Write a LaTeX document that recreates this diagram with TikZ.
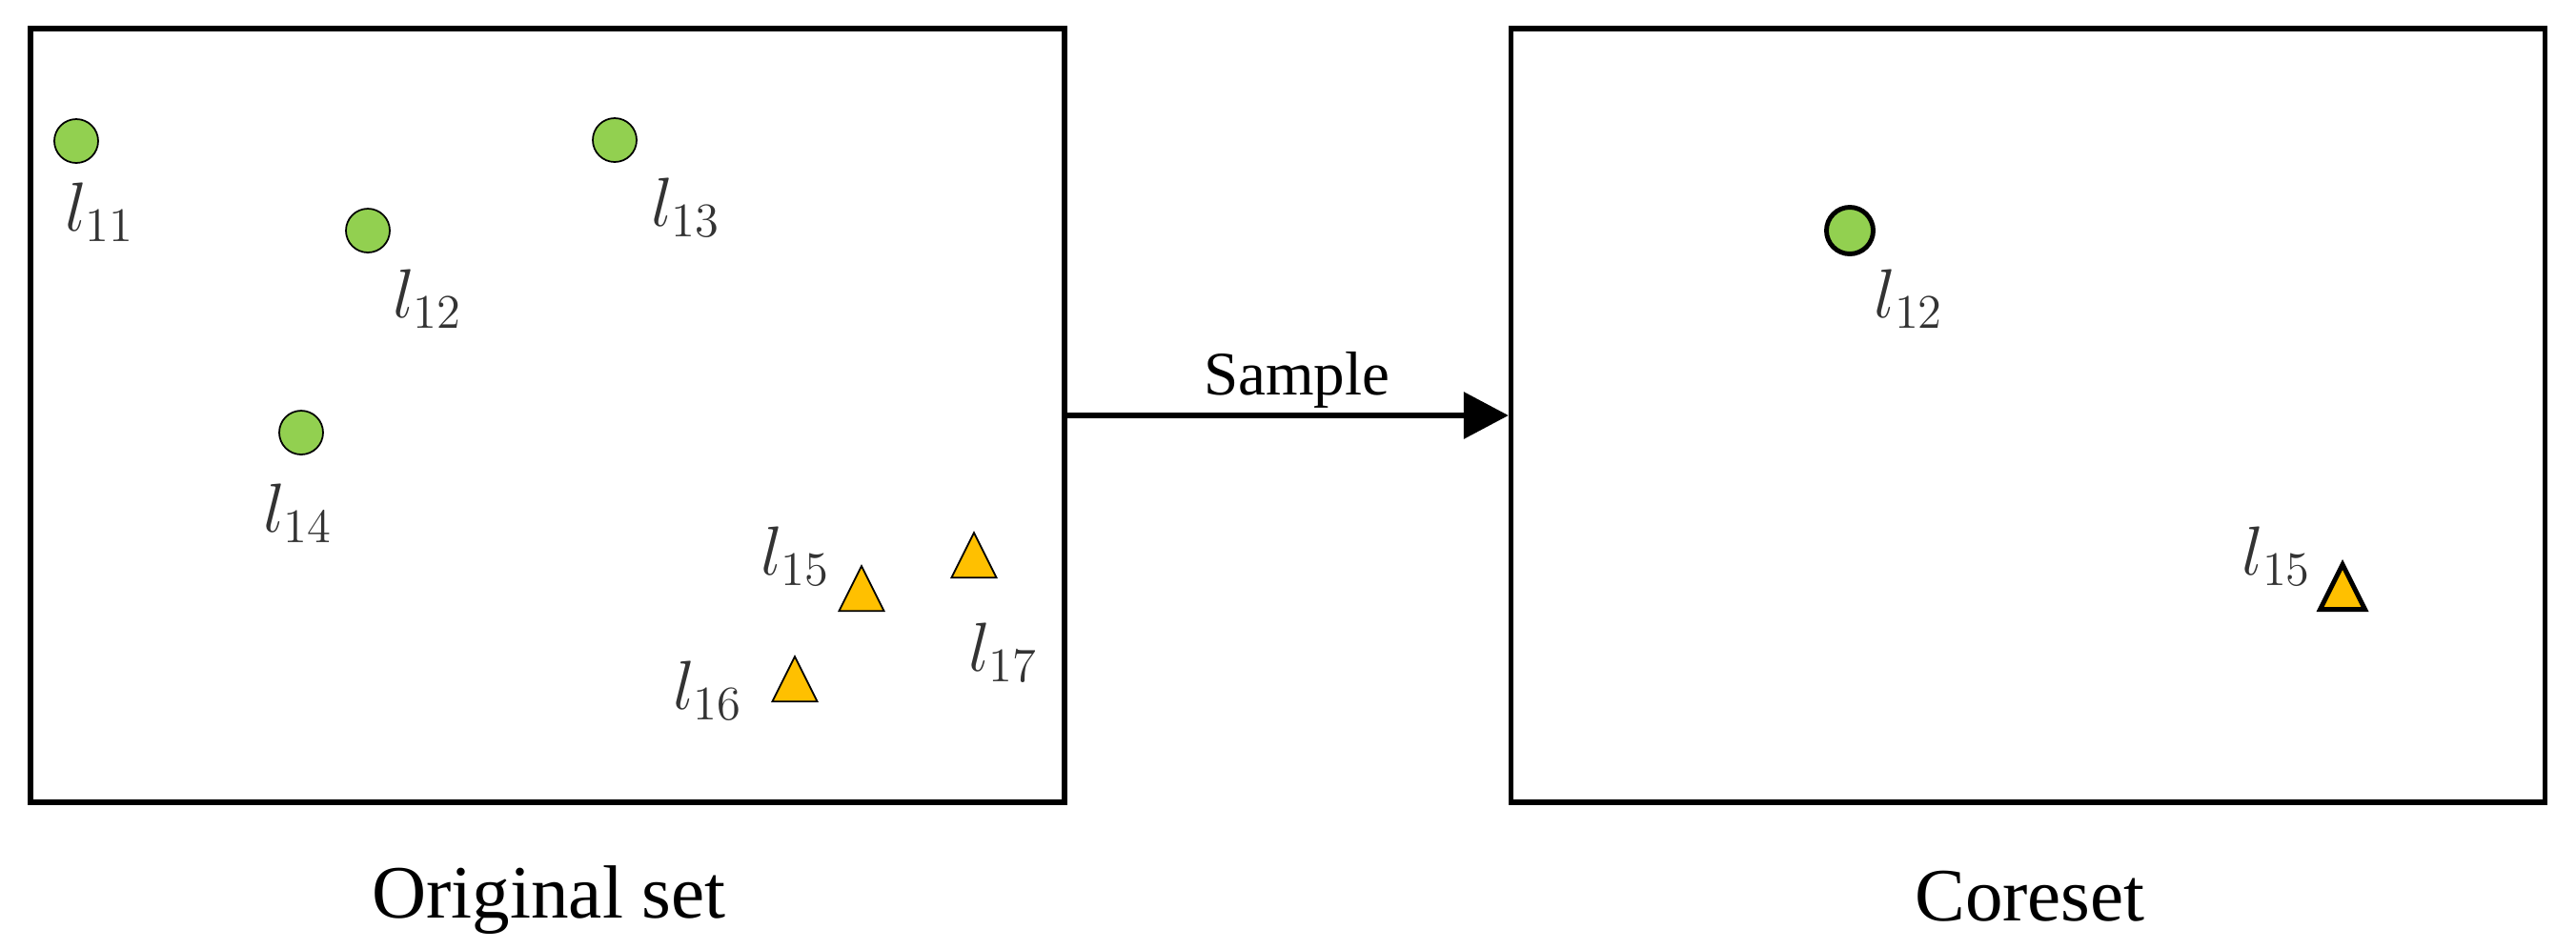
\documentclass[tikz,border=0pt]{standalone}
\usepackage{amsmath}
\usepackage[no-math]{fontspec}
\setmainfont{Liberation Serif}
\usetikzlibrary{arrows.meta,shapes.geometric}
\definecolor{ptgreen}{HTML}{92D050}
\definecolor{ptorange}{HTML}{FFC000}

\begin{document}
\begin{tikzpicture}[setbox/.style={draw, line width=1.5pt, minimum width=10.85cm, minimum height=8.12cm, inner sep=0pt},
  dot/.style={circle, draw, line width=0.5pt, fill=ptgreen, minimum size=0.46cm, inner sep=0pt},
  tri/.style={isosceles triangle, isosceles triangle stretches, shape border rotate=90, draw, line width=0.5pt, fill=ptorange, minimum width=0.47cm, minimum height=0.47cm, inner sep=0pt, anchor=lower side},
  kept/.style={line width=1.4pt},
  lab/.style={text=black!80, font=\fontsize{22}{26}\selectfont, inner sep=0pt},
  setname/.style={font=\rmfamily\fontsize{22.5}{27}\selectfont, anchor=base}]
  \useasboundingbox (0,0) rectangle (27.03,-9.95);
  \node[setbox] (orig) at (5.745,-4.36) {}; \node[setbox] (core) at (21.28,-4.36) {};
  % original set
  \node[dot] (p11) at (0.80,-1.48) {}; \node[lab] (l11) at (1.05,-2.23) {$l_{11}$};
  \node[dot] (p12) at (3.86,-2.42) {}; \node[lab] (l12) at (4.49,-3.14) {$l_{12}$};
  \node[dot] (p13) at (6.45,-1.47) {}; \node[lab] (l13) at (7.20,-2.18) {$l_{13}$};
  \node[dot] (p14) at (3.16,-4.54) {}; \node[lab] (l14) at (3.13,-5.39) {$l_{14}$};
  \node[tri] (p15) at (9.04,-6.42) {}; \node[lab] (l15) at (8.35,-5.84) {$l_{15}$};
  \node[tri] (p16) at (8.34,-7.37) {}; \node[lab] (l16) at (7.43,-7.25) {$l_{16}$};
  \node[tri] (p17) at (10.22,-6.07) {}; \node[lab] (l17) at (10.53,-6.85) {$l_{17}$};
  % coreset
  \node[dot, kept, minimum size=0.49cm] (q12) at (19.41,-2.42) {}; \node[lab] (m12) at (20.03,-3.14) {$l_{12}$};
  \node[tri, kept] (q15) at (24.58,-6.42) {}; \node[lab] (m15) at (23.89,-5.84) {$l_{15}$};
  \draw[-{Triangle[length=0.47cm,width=0.48cm]}, line width=1.8pt] (orig) to node[above=1.4pt, pos=0.52, inner sep=0pt, font=\rmfamily\fontsize{18.5}{22}\selectfont] {Sample} (core);
  \node[setname] (tOrig) at (5.76,-9.63) {Original set};
  \node[setname] (tCore) at (21.30,-9.66) {Coreset};
\end{tikzpicture}
\end{document}
